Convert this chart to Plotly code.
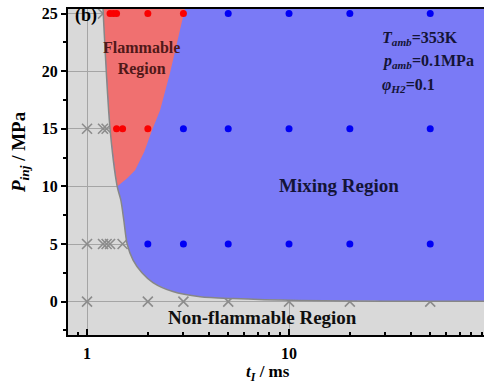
import math
import plotly.graph_objects as go

# Operating points: interval time t_I (ms) and injection pressure P_inj (MPa)
nonflam_t = [1.2, 1, 1.2, 1.25, 1, 1.2, 1.25, 1.3, 1.5, 1, 2, 3, 5, 10, 20, 50]
nonflam_p = [25, 15, 15, 15, 5, 5, 5, 5, 5, 0, 0, 0, 0, 0, 0, 0]

flam_t = [1.3, 1.35, 1.4, 2, 3, 1.4, 1.5, 2]
flam_p = [25, 25, 25, 25, 25, 15, 15, 15]

mix_t = [5, 10, 20, 50, 3, 5, 10, 20, 50, 2, 3, 5, 10, 20, 50]
mix_p = [25, 25, 25, 25, 15, 15, 15, 15, 15, 5, 5, 5, 5, 5, 5]

# Lower / left limit of the combustible zone (gray boundary line)
bound_t = [1.20, 1.30, 1.41, 1.47, 1.52, 1.58, 1.69, 1.87, 2.12, 2.66, 3.63, 5.3, 11.3, 30, 150]
bound_p = [25.4, 15.0, 10.0, 8.8, 7.1, 5.0, 3.6, 2.5, 1.65, 0.87, 0.43, 0.26, 0.09, 0.04, 0.03]

# Rich limit separating flammable and mixing regions
rich_t = [1.41, 1.58, 1.73, 1.92, 2.10, 2.30, 2.58, 3.05]
rich_p = [10.0, 10.7, 11.4, 13.0, 14.9, 16.6, 19.9, 25.4]

x_ticks = [1, 10]
x_minor = [0.9, 2, 3, 4, 5, 6, 7, 8, 9, 20, 30, 40, 50, 60, 70, 80, 90]
y_ticks = [0, 5, 10, 15, 20, 25]
y_minor = [-2.5, 2.5, 7.5, 12.5, 17.5, 22.5]

X_RANGE = [0.805, 92.3]
Y_RANGE = [-2.9, 25.4]

BG = "rgb(217,217,217)"
RED_FILL = "rgb(240,112,112)"
BLUE_FILL = "rgb(122,122,246)"
FONT = "Liberation Serif"
SPLINE = dict(shape="spline", smoothing=0.8)

fig = go.Figure()

# Non-flammable points (drawn first so region fills sit over them)
fig.add_trace(go.Scatter(
    x=nonflam_t, y=nonflam_p, mode="markers",
    marker=dict(symbol="x-thin", size=10, line=dict(color="rgb(140,140,140)", width=1.6)),
    showlegend=False, hoverinfo="skip"))

# Everything above the lower limit (mixing region colour)
blue_x = bound_t + [200, 200, 1.15]
blue_y = bound_p + [0.03, 29, 29]
fig.add_trace(go.Scatter(
    x=blue_x, y=blue_y, mode="lines", fill="toself", fillcolor=BLUE_FILL,
    line=dict(width=0, **SPLINE), showlegend=False, hoverinfo="skip"))

# Flammable region: tip, up the rich limit, back down the left limit to the tip
red_x = rich_t + [3.3, 1.15] + [bound_t[0], bound_t[1], bound_t[2]]
red_y = rich_p + [29, 29] + [bound_p[0], bound_p[1], bound_p[2]]
fig.add_trace(go.Scatter(
    x=red_x, y=red_y, mode="lines", fill="toself", fillcolor=RED_FILL,
    line=dict(width=0), showlegend=False, hoverinfo="skip"))

# Boundary line
fig.add_trace(go.Scatter(
    x=bound_t, y=bound_p, mode="lines",
    line=dict(color="rgb(135,135,135)", width=1.5, **SPLINE),
    showlegend=False, hoverinfo="skip"))

fig.add_trace(go.Scatter(
    x=flam_t, y=flam_p, mode="markers",
    marker=dict(symbol="circle", size=7, color="rgb(250,0,0)"),
    showlegend=False, hoverinfo="skip"))

fig.add_trace(go.Scatter(
    x=mix_t, y=mix_p, mode="markers",
    marker=dict(symbol="circle", size=7, color="rgb(0,0,245)"),
    showlegend=False, hoverinfo="skip"))

W, H = 484, 383
L, R, T, B = 68, 0, 9, 48
PW, PH = W - L - R, H - T - B


def px(xp):
    return (xp - L) / PW


def py(yp):
    return (H - B - yp) / PH


def ann(text, x, y, size, color="black", xanchor="center", angle=0):
    return dict(text=text, x=px(x), y=py(y), xref="paper", yref="paper",
                xanchor=xanchor, yanchor="middle", showarrow=False, textangle=angle,
                font=dict(family=FONT, size=size, color=color, weight="bold"))


annotations = [
    ann("(b)", 86, 16, 18),
    ann("Flammable<br>Region", 141, 58, 16, color="rgb(80,25,25)"),
    ann("Mixing Region", 339, 185, 19, color="rgb(20,20,55)"),
    ann("Non-flammable Region", 262, 317, 19, color="rgb(15,15,15)"),
    ann("<i>T</i><sub><i>amb</i></sub>=353K", 380, 38, 16, color="rgb(20,20,55)", xanchor="left"),
    ann("<i>p</i><sub><i>amb</i></sub>=0.1MPa", 380, 62, 16, color="rgb(20,20,55)", xanchor="left"),
    ann("<i>φ</i><sub><i>H2</i></sub>=0.1", 380, 85, 16, color="rgb(20,20,55)", xanchor="left"),
    ann("<i>P</i><sub><i>inj</i></sub> / MPa", 20, 152, 19, angle=-90),
    ann("<i>t</i><sub><i>I</i></sub> / ms", 268, 373, 17),
]

fig.update_layout(
    width=W, height=H,
    margin=dict(l=L, r=R, t=T, b=B, pad=0),
    paper_bgcolor="white", plot_bgcolor=BG,
    font=dict(family=FONT, size=16, color="black"),
    annotations=annotations,
    showlegend=False,
)

fig.update_xaxes(
    type="log", range=[math.log10(X_RANGE[0]), math.log10(X_RANGE[1])],
    tickvals=x_ticks, ticktext=[str(v) for v in x_ticks],
    tickfont=dict(family=FONT, size=16, color="black", weight="bold"),
    ticks="inside", ticklen=6, tickwidth=2, tickcolor="black", ticklabelstandoff=3,
    showline=True, linecolor="black", linewidth=2, mirror=True,
    showgrid=True, gridcolor="rgb(165,165,165)", gridwidth=1, zeroline=False,
    minor=dict(tickvals=x_minor, ticks="inside", ticklen=3, tickwidth=2,
               tickcolor="black", showgrid=False),
    automargin=False,
)

fig.update_yaxes(
    range=Y_RANGE, tickvals=y_ticks, ticktext=[str(v) for v in y_ticks],
    tickfont=dict(family=FONT, size=16, color="black", weight="bold"),
    ticks="outside", ticklen=5, tickwidth=2, tickcolor="black",
    showline=True, linecolor="black", linewidth=2, mirror=False,
    showgrid=True, gridcolor="rgb(165,165,165)", gridwidth=1, zeroline=False,
    minor=dict(tickvals=y_minor, ticks="outside", ticklen=3, tickwidth=2,
               tickcolor="black", showgrid=False),
    automargin=False,
)

fig.write_html("out.html")
